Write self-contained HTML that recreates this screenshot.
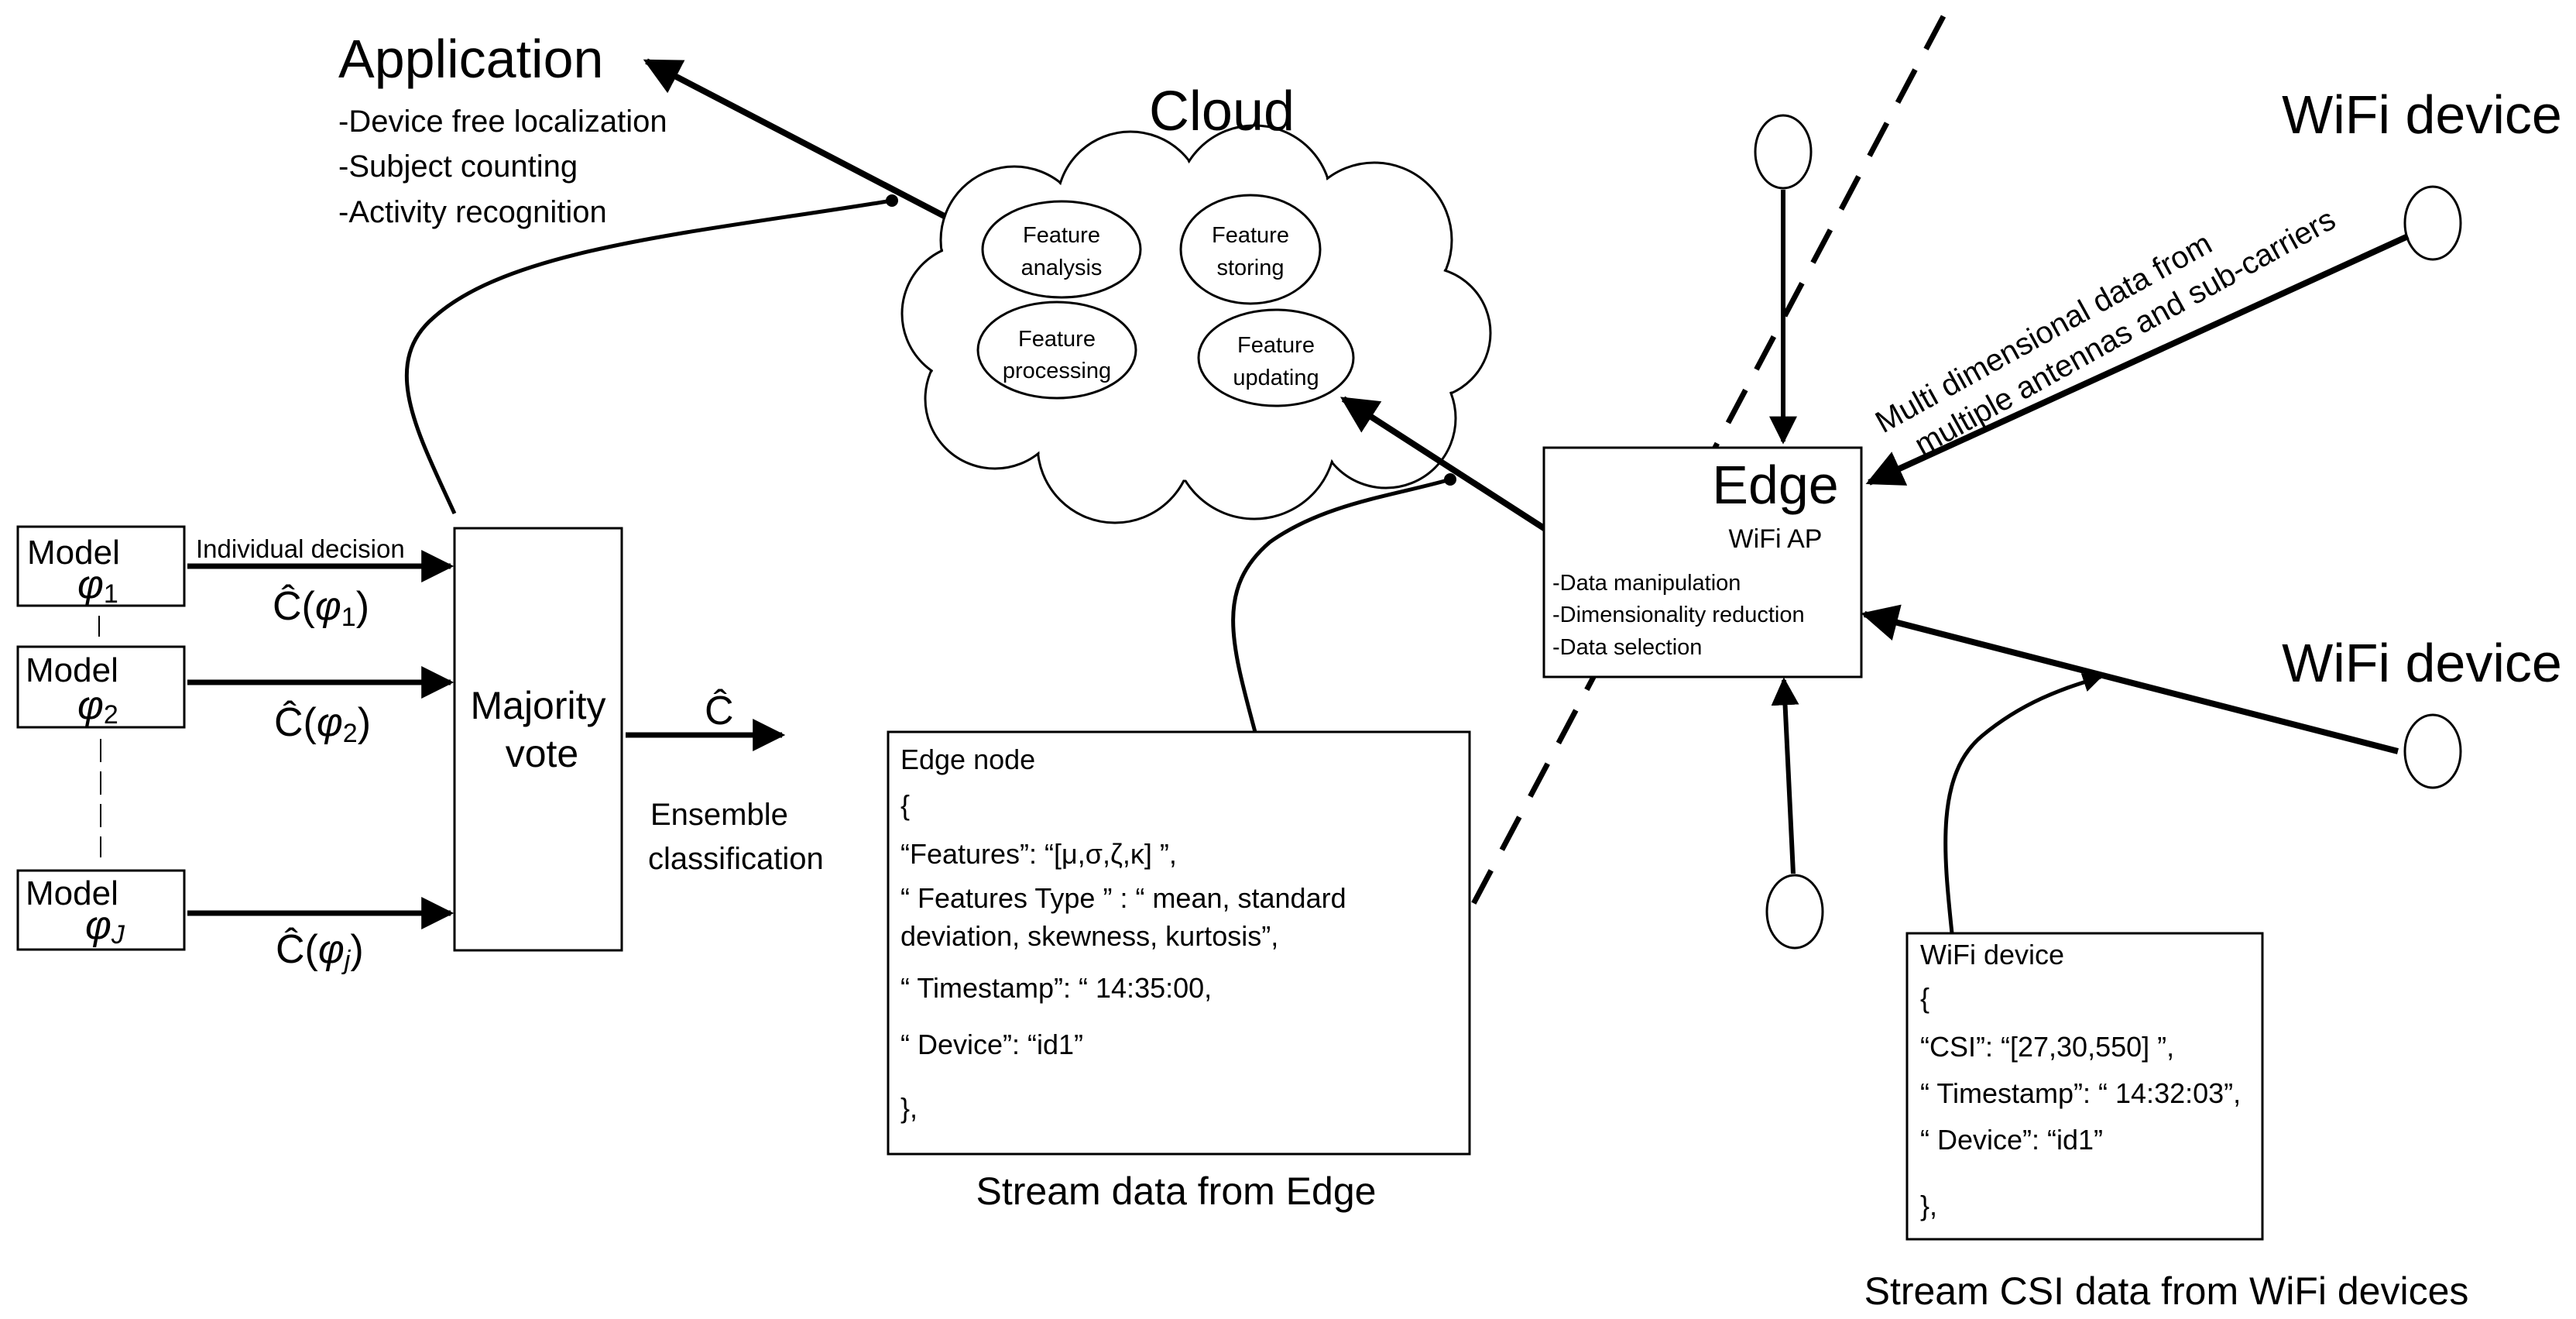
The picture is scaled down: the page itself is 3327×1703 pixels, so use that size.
<!DOCTYPE html>
<html><head><meta charset="utf-8"><style>
body{margin:0;background:#fff;}
svg{display:block;}
text{font-family:"Liberation Sans",sans-serif;fill:#000;}
</style></head><body>
<svg width="3327" height="1703" viewBox="0 0 3327 1703" xmlns="http://www.w3.org/2000/svg">
<defs>
<marker id="ah" viewBox="0 0 10 10" refX="9" refY="5" markerWidth="6" markerHeight="6" orient="auto-start-reverse" markerUnits="strokeWidth"><path d="M0,0 L10,5 L0,10 z" fill="#000"/></marker>
<marker id="ah2" viewBox="0 0 10 10" refX="9" refY="5" markerWidth="5" markerHeight="5" orient="auto" markerUnits="strokeWidth"><path d="M0,0 L10,5 L0,10 z" fill="#000"/></marker>
</defs>

<!-- dashed boundary line -->
<line x1="2510" y1="21" x2="1798" y2="1365" stroke="#000" stroke-width="7" stroke-dasharray="48,30"/>

<!-- Application -->
<text x="437" y="100" font-size="70">Application</text>
<text x="437" y="170" font-size="40">-Device free localization</text>
<text x="437" y="228" font-size="40">-Subject counting</text>
<text x="437" y="287" font-size="40">-Activity recognition</text>
<line x1="1258" y1="299" x2="835" y2="79" stroke="#000" stroke-width="8" marker-end="url(#ah)"/>

<!-- Curve majority -> cloud -->
<path d="M587,663 C540,560 490,470 560,410 C660,320 900,300 1152,259" fill="none" stroke="#000" stroke-width="5"/>
<circle cx="1152" cy="259" r="8" fill="#000"/>

<!-- Cloud -->
<g stroke="#000" stroke-width="3" fill="#fff">
<circle cx="1310" cy="310" r="95"/><circle cx="1460" cy="265" r="95"/><circle cx="1620" cy="262" r="100"/>
<circle cx="1775" cy="310" r="100"/><circle cx="1840" cy="430" r="85"/><circle cx="1790" cy="540" r="90"/>
<circle cx="1620" cy="565" r="105"/><circle cx="1440" cy="575" r="100"/><circle cx="1285" cy="515" r="90"/>
<circle cx="1255" cy="405" r="90"/>
</g>
<g fill="#fff">
<circle cx="1310" cy="310" r="93"/><circle cx="1460" cy="265" r="93"/><circle cx="1620" cy="262" r="98"/>
<circle cx="1775" cy="310" r="98"/><circle cx="1840" cy="430" r="83"/><circle cx="1790" cy="540" r="88"/>
<circle cx="1620" cy="565" r="103"/><circle cx="1440" cy="575" r="98"/><circle cx="1285" cy="515" r="88"/>
<circle cx="1255" cy="405" r="88"/><ellipse cx="1550" cy="420" rx="300" ry="200"/>
</g>
<text x="1578" y="168" font-size="72" text-anchor="middle">Cloud</text>
<g stroke="#000" stroke-width="3" fill="none">
<ellipse cx="1371" cy="322" rx="102" ry="62"/>
<ellipse cx="1615" cy="322" rx="90" ry="70"/>
<ellipse cx="1365" cy="452" rx="102" ry="62"/>
<ellipse cx="1648" cy="462" rx="100" ry="62"/>
</g>
<g font-size="29" text-anchor="middle">
<text x="1371" y="313">Feature</text><text x="1371" y="355">analysis</text>
<text x="1615" y="313">Feature</text><text x="1615" y="355">storing</text>
<text x="1365" y="447">Feature</text><text x="1365" y="488">processing</text>
<text x="1648" y="455">Feature</text><text x="1648" y="497">updating</text>
</g>

<!-- Edge -> cloud arrow -->
<line x1="2005" y1="689" x2="1735" y2="515" stroke="#000" stroke-width="8" marker-end="url(#ah)"/>
<path d="M1621,945 C1590,830 1570,760 1640,700 C1710,650 1800,640 1873,619" fill="none" stroke="#000" stroke-width="5"/>
<circle cx="1873" cy="619" r="8" fill="#000"/>

<!-- Models -->
<g stroke="#000" stroke-width="3" fill="#fff">
<rect x="23" y="680" width="215" height="102"/>
<rect x="23" y="835" width="215" height="104"/>
<rect x="23" y="1124" width="215" height="102"/>
<rect x="587" y="682" width="216" height="545"/>
</g>
<line x1="128" y1="795" x2="128" y2="822" stroke="#000" stroke-width="2"/>
<line x1="130" y1="954" x2="130" y2="1107" stroke="#000" stroke-width="2" stroke-dasharray="30,12"/>
<g font-size="44">
<text x="35" y="728">Model</text><text x="33" y="880">Model</text><text x="33" y="1168">Model</text>
</g>
<g font-family="Liberation Serif" font-style="italic" font-size="52">
<text x="100" y="772">φ<tspan font-size="34" font-style="normal" dy="6">1</tspan></text>
<text x="100" y="928">φ<tspan font-size="34" font-style="normal" dy="6">2</tspan></text>
<text x="110" y="1212">φ<tspan font-size="34" dy="6">J</tspan></text>
</g>
<g stroke="#000" stroke-width="7">
<line x1="242" y1="731" x2="582" y2="731" marker-end="url(#ah)"/>
<line x1="242" y1="881" x2="582" y2="881" marker-end="url(#ah)"/>
<line x1="242" y1="1179" x2="582" y2="1179" marker-end="url(#ah)"/>
<line x1="808" y1="949" x2="1010" y2="949" marker-end="url(#ah)"/>
</g>
<text x="253" y="720" font-size="33">Individual decision</text>
<g font-family="Liberation Serif" font-size="52">
<text x="352" y="800">Ĉ(<tspan font-style="italic">φ</tspan><tspan font-size="34" dy="8">1</tspan><tspan dy="-8">)</tspan></text>
<text x="354" y="950">Ĉ(<tspan font-style="italic">φ</tspan><tspan font-size="34" dy="8">2</tspan><tspan dy="-8">)</tspan></text>
<text x="356" y="1243">Ĉ(<tspan font-style="italic">φ</tspan><tspan font-size="34" font-style="italic" dy="8">j</tspan><tspan dy="-8">)</tspan></text>
<text x="910" y="935">Ĉ</text>
</g>
<g font-size="50" text-anchor="middle">
<text x="695" y="928">Majority</text><text x="700" y="990">vote</text>
</g>
<g font-size="40">
<text x="840" y="1065">Ensemble</text><text x="837" y="1122">classification</text>
</g>

<!-- Edge node box -->
<rect x="1147" y="945" width="751" height="545" stroke="#000" stroke-width="3" fill="#fff"/>
<g font-size="36">
<text x="1163" y="993">Edge node</text>
<text x="1163" y="1052">{</text>
<text x="1163" y="1115">“Features”: “[μ,σ,ζ,κ] ”,</text>
<text x="1163" y="1172">“ Features Type ” : “ mean, standard</text>
<text x="1163" y="1221">deviation, skewness, kurtosis”,</text>
<text x="1163" y="1288">“ Timestamp”: “ 14:35:00,</text>
<text x="1163" y="1361">“ Device”: “id1”</text>
<text x="1163" y="1443">},</text>
</g>
<text x="1519" y="1555" font-size="50" text-anchor="middle">Stream data from Edge</text>

<!-- antennas -->
<g stroke="#000" stroke-width="3" fill="#fff">
<ellipse cx="2303" cy="196" rx="36" ry="47"/>
<ellipse cx="2318" cy="1177" rx="36" ry="47"/>
<ellipse cx="3142" cy="288" rx="36" ry="47"/>
<ellipse cx="3142" cy="970" rx="36" ry="47"/>
</g>
<g stroke="#000" stroke-width="6">
<line x1="2303" y1="245" x2="2303" y2="570" marker-end="url(#ah)"/>
<line x1="2316" y1="1128" x2="2304" y2="878" marker-end="url(#ah)"/>
</g>
<g stroke="#000" stroke-width="8">
<line x1="3110" y1="305" x2="2414" y2="623" marker-end="url(#ah)"/>
<line x1="3097" y1="970" x2="2408" y2="793" marker-end="url(#ah)"/>
</g>
<path d="M2521,1205 C2510,1100 2500,1000 2560,950 C2620,900 2680,885 2713,874" fill="none" stroke="#000" stroke-width="5" marker-end="url(#ah2)"/>

<!-- Edge box -->
<rect x="1994" y="578" width="410" height="296" stroke="#000" stroke-width="3" fill="#fff"/>
<text x="2293" y="650" font-size="70" text-anchor="middle">Edge</text>
<text x="2293" y="707" font-size="34" text-anchor="middle">WiFi AP</text>
<g font-size="29">
<text x="2005" y="762">-Data manipulation</text>
<text x="2005" y="803">-Dimensionality reduction</text>
<text x="2005" y="845">-Data selection</text>
</g>

<!-- WiFi labels -->
<text x="3128" y="172" font-size="70" text-anchor="middle">WiFi device</text>
<text x="3128" y="880" font-size="70" text-anchor="middle">WiFi device</text>
<g font-size="40" transform="translate(2432,560) rotate(-29)">
<text x="0" y="0">Multi dimensional data from</text>
<text x="30" y="50">multiple antennas and sub-carriers</text>
</g>

<!-- WiFi device box -->
<rect x="2463" y="1205" width="459" height="395" stroke="#000" stroke-width="3" fill="#fff"/>
<g font-size="36">
<text x="2480" y="1245">WiFi device</text>
<text x="2480" y="1301">{</text>
<text x="2480" y="1364">“CSI”: “[27,30,550] ”,</text>
<text x="2480" y="1424">“ Timestamp”: “ 14:32:03”,</text>
<text x="2480" y="1484">“ Device”: “id1”</text>
<text x="2480" y="1569">},</text>
</g>
<text x="2798" y="1684" font-size="50" text-anchor="middle">Stream CSI data from WiFi devices</text>
</svg>
</body></html>
